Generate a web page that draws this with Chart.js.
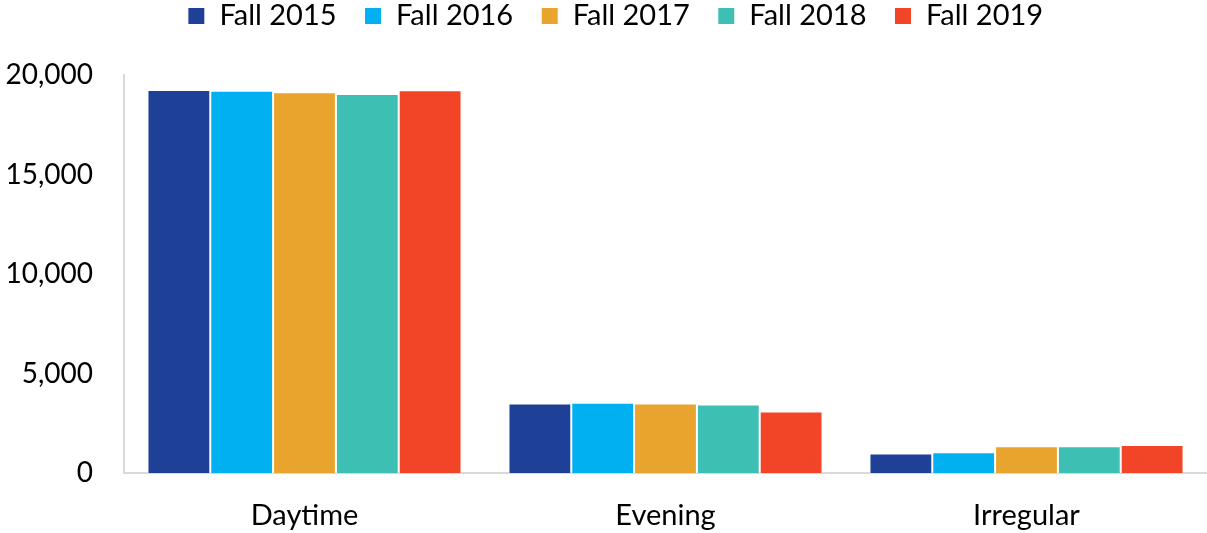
<!DOCTYPE html>
<html>
<head>
<meta charset="utf-8">
<script src="https://cdn.jsdelivr.net/npm/chart.js@4"></script>
<style>
html,body{margin:0;padding:0;background:#fff;}
#wrap{width:1207px;height:533px;}
</style>
</head>
<body>
<div id="wrap"><canvas id="c" width="1207" height="533"></canvas></div>
<script>
const categories = ["Daytime", "Evening", "Irregular"];
const seriesNames = ["Fall 2015", "Fall 2016", "Fall 2017", "Fall 2018", "Fall 2019"];
const fall2015 = [19250, 3490, 980];
const fall2016 = [19210, 3530, 1040];
const fall2017 = [19130, 3490, 1345];
const fall2018 = [19040, 3440, 1345];
const fall2019 = [19230, 3090, 1410];
const yTicks = [0, 5000, 10000, 15000, 20000];
const colors = ["#1f4097", "#00b0f0", "#e8a42c", "#3dbfb4", "#f24427"];

const allSeries = [fall2015, fall2016, fall2017, fall2018, fall2019];
const FONT = "Lato, 'Open Sans', sans-serif";
const LEGEND_FONT = 29;
const LEGEND_PAD = 28;

const legendSpace = {
  id: 'legendSpace',
  beforeInit(chart) {
    const lg = chart.legend;
    if (!lg) return;
    const orig = lg.fit;
    lg.fit = function () {
      orig.call(this);
      this.height = 75;
    };
  },
  afterLayout(chart) {
    const lg = chart.legend;
    if (!lg) return;
    lg.top = 16 - LEGEND_PAD - LEGEND_FONT / 2;
    lg.left += 12;
    lg.right += 12;
  }
};

new Chart(document.getElementById('c'), {
  type: 'bar',
  data: {
    labels: categories,
    datasets: allSeries.map((d, i) => ({
      label: seriesNames[i],
      data: d,
      backgroundColor: colors[i],
      borderColor: '#ffffff',
      borderWidth: 1,
      categoryPercentage: 0.87,
      barPercentage: 1.0
    }))
  },
  plugins: [legendSpace],
  options: {
    responsive: false,
    animation: false,
    layout: { padding: { left: 0, right: 0, top: 0, bottom: 0 } },
    plugins: {
      legend: {
        position: 'top',
        labels: {
          boxWidth: 17, boxHeight: 17,
          color: '#000',
          font: { family: FONT, size: LEGEND_FONT },
          padding: LEGEND_PAD
        }
      },
      tooltip: { enabled: false }
    },
    scales: {
      x: {
        grid: { display: false, drawTicks: false },
        border: { display: true, color: '#d9d9d9', width: 2 },
        ticks: { color: '#000', font: { family: FONT, size: 29 }, padding: 25 },
        afterFit: (ax) => { ax.height = 60; }
      },
      y: {
        min: 0, max: 20000,
        afterBuildTicks: (ax) => { ax.ticks = yTicks.map(v => ({ value: v })); },
        grid: { display: false, drawTicks: false },
        border: { display: true, color: '#d9d9d9', width: 2 },
        ticks: {
          color: '#000', font: { family: FONT, size: 28 }, padding: 31,
          callback: (v) => v.toLocaleString('en-US')
        },
        afterFit: (ax) => { ax.width = 124; }
      }
    }
  }
});
</script>
</body>
</html>
